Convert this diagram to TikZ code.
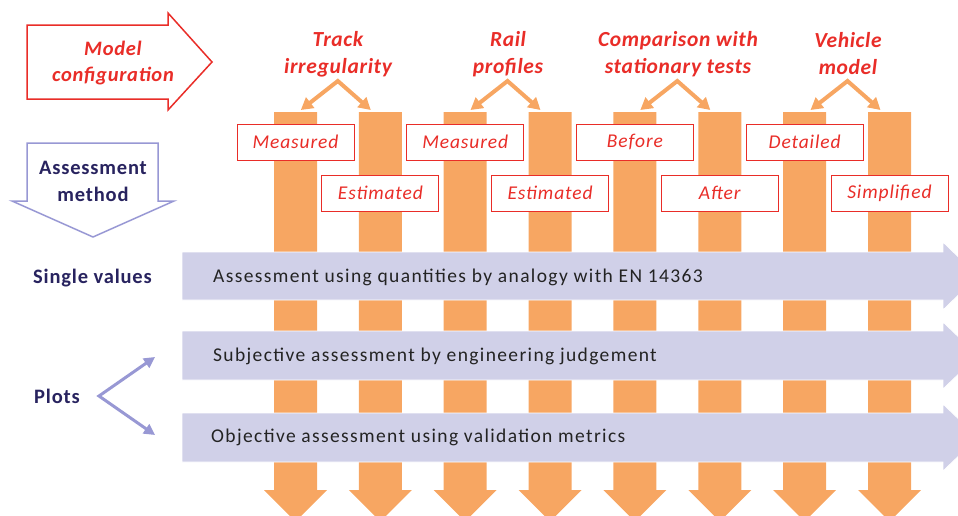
\documentclass[tikz,border=0pt]{standalone}
\usepackage{fontspec}
\setmainfont{Carlito}
\usetikzlibrary{arrows.meta}
\definecolor{orng}{RGB}{247,166,98}
\definecolor{redt}{RGB}{233,45,40}
\definecolor{lav}{RGB}{208,208,232}
\definecolor{lavdk}{RGB}{152,152,212}
\definecolor{navy}{RGB}{40,35,95}
\definecolor{txt}{RGB}{35,35,35}
\tikzset{
  hbar/.style={fill=lav, draw=white, line width=0.8pt},
  redbox/.style={draw=redt, fill=white, line width=0.9pt, minimum width=117pt, minimum height=36pt, inner sep=0pt,
     text=redt, font=\fontsize{19.5}{22}\selectfont\itshape\addfontfeatures{LetterSpace=4.5}},
  toplabel/.style={text=redt, align=center, font=\fontsize{21.5}{27}\selectfont\bfseries\itshape\addfontfeatures{LetterSpace=3}},
  navylabel/.style={text=navy, align=center, font=\fontsize{20.5}{27}\selectfont\bfseries\addfontfeatures{LetterSpace=4}},
  bartext/.style={anchor=west, text=txt, inner sep=0pt, font=\fontsize{19.5}{22}\selectfont\addfontfeatures{LetterSpace=7}},
  oconn/.style={draw=orng, line width=4pt, {Triangle[length=12pt,width=13pt]}-{Triangle[length=12pt,width=13pt]}},
  lconn/.style={draw=lavdk, line width=3pt, {Triangle[length=11pt,width=11pt]}-{Triangle[length=11pt,width=11pt]}},
}
\begin{document}
\begin{tikzpicture}[x=1pt,y=-1pt]
\useasboundingbox (0,0) rectangle (958,515);
% vertical orange arrows
\foreach \i in {0,...,7}{
  \pgfmathsetmacro{\l}{274+\i*84.86}
  \fill[orng] (\l,112) -- (\l+43,112) -- (\l+43,490) -- (\l+53,490) -- (\l+21.5,521.5) -- (\l-10,490) -- (\l,490) -- cycle;
}
% red option boxes
\node[redbox] (m1) at (295.5,142) {Measured};
\node[redbox] (e1) at (380.4,193) {Estimated};
\node[redbox] (m2) at (465.2,142) {Measured};
\node[redbox] (e2) at (550.1,193) {Estimated};
\node[redbox] (b3) at (634.9,142) {Before};
\node[redbox] (a3) at (719.8,193) {After};
\node[redbox] (d4) at (804.7,142) {Detailed};
\node[redbox] (s4) at (889.5,193) {Simplified};
% top labels
\node[toplabel] (t1) at (338,54) {Track\\irregularity};
\node[toplabel] (t2) at (508,54) {Rail\\profiles};
\node[toplabel] (t3) at (678,54) {Comparison with\\stationary tests};
\node[toplabel] (t4) at (848,54) {Vehicle\\model};
% connectors from labels
\foreach \n/\x in {1/337.8,2/507.5,3/677.3,4/847.5}{
  \coordinate (ap\n) at (\x,81);
  \coordinate (lt\n) at (\x-37,110);
  \coordinate (rt\n) at (\x+33,110);
  \draw[oconn] (lt\n) -- (ap\n) -- (rt\n);
}
% model configuration arrow
\draw[redt, line width=1.5pt, fill=white] (27,25) -- (168,25) -- (168,13) -- (212,62) -- (168,110) -- (168,99) -- (27,99) -- cycle;
\node[toplabel, font=\fontsize{20.5}{26}\selectfont\bfseries\itshape\addfontfeatures{LetterSpace=3.5}] (mc) at (113,63) {Model\\configuration};
% assessment method arrow
\draw[lavdk, line width=1.5pt, fill=white] (27,143) -- (158,143) -- (158,201) -- (174,201) -- (93,237) -- (12,201) -- (27,201) -- cycle;
\node[navylabel] (am) at (93,181) {Assessment\\method};
% horizontal bars
\draw[hbar] (182,252) -- (943,252) -- (943,242) -- (978,276) -- (943,310) -- (943,300) -- (182,300) -- cycle;
\draw[hbar] (182,331) -- (943,331) -- (943,322) -- (978,355.5) -- (943,389) -- (943,380) -- (182,380) -- cycle;
\draw[hbar] (182,413) -- (943,413) -- (943,404) -- (978,437.5) -- (943,471) -- (943,462) -- (182,462) -- cycle;
\node[bartext] (h1) at (213,277) {Assessment using quantities by analogy with EN 14363};
\node[bartext] (h2) at (213,356) {Subjective assessment by engineering judgement};
\node[bartext] (h3) at (211,437) {Objective assessment using validation metrics};
% left labels
\node[navylabel] (sv) at (92.5,278) {Single values};
\node[navylabel] (pl) at (57,396) {Plots};
\coordinate (pv) at (99,396);
\coordinate (pu) at (155,357);
\coordinate (pd) at (155,435);
\draw[lconn] (pu) -- (pv) -- (pd);
\end{tikzpicture}
\end{document}
